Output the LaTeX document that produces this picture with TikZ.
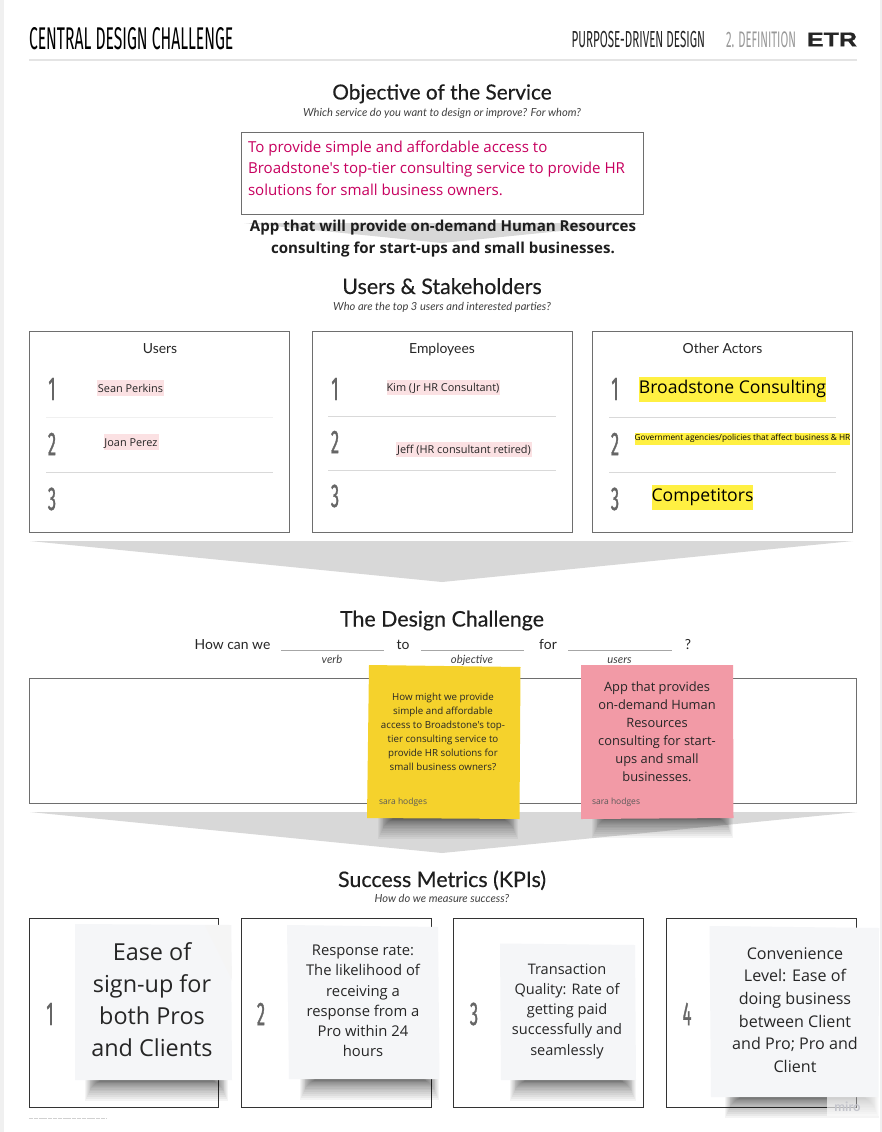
\documentclass[tikz,border=0pt]{standalone}
\usepackage{fontspec}
\setmainfont{Open Sans}
\newfontfamily\body{Open Sans}
\newfontfamily\hd{Lato}
\newfontfamily\hdm[FakeBold=0.35]{Lato}
\newfontfamily\cond[FakeStretch=0.5]{Fira Sans}
\newfontfamily\numf[FakeStretch=0.5,FakeBold=0.9]{Fira Sans}
\newfontfamily\logo[FakeStretch=1.25,FakeBold=1]{Liberation Sans}
\newcommand{\pxf}[2]{\fontsize{\dimexpr #1pt*3/4\relax}{\dimexpr #2pt*3/4\relax}\selectfont}
\definecolor{boxline}{HTML}{6E6E6E}
\definecolor{arrowgrey}{HTML}{D8D8D8}
\definecolor{rulegrey}{HTML}{D9D9D9}
\definecolor{numgrey}{HTML}{666666}
\definecolor{hlpink}{HTML}{FBE1E3}
\definecolor{hlyellow}{HTML}{FFF042}
\definecolor{magentatext}{HTML}{C7005F}
\definecolor{yellownote}{HTML}{F5D22C}
\definecolor{pinknote}{HTML}{F29AA6}
\definecolor{greynote}{HTML}{F5F6F8}
\definecolor{edgegrey}{HTML}{F0F0F0}
\definecolor{inktext}{HTML}{1E1E1E}
\definecolor{miroink}{HTML}{C4C5CC}
\tikzset{
  x=0.75pt,y=-0.75pt,
  txt/.style={inner sep=0pt,outer sep=0pt,text=inktext},
  heading/.style={txt,font=\hdm\pxf{21.4}{24},text height=14pt,text depth=3.5pt},
  subhead/.style={txt,font=\hd\itshape\pxf{11.1}{13},text=black!75,text height=7.5pt,text depth=2pt},
  coltitle/.style={txt,font=\hd\pxf{13.9}{16},text=black!85,text height=9.75pt,text depth=2.5pt},
  numeral/.style={txt,font=\numf\pxf{33}{35},text=numgrey},
  framebox/.style={draw=boxline,line width=0.75pt,fill=white},
  darkframe/.style={draw=black!80,line width=0.75pt,fill=white},
  divider/.style={draw=rulegrey,line width=0.75pt},
  pinkhl/.style={txt,fill=hlpink,font=\pxf{10.9}{12},text=black!85,text height=8.4pt,text depth=1.9pt,minimum height=15.5*0.75pt,inner xsep=0pt},
  yellowhl/.style={txt,fill=hlyellow,text=black},
  flow/.style={fill=arrowgrey},
  notetxt/.style={txt,align=center,text=black!85},
  author/.style={txt,anchor=west,font=\pxf{8.5}{10},text=black!65},
  blank/.style={draw=black!35,line width=0.5pt},
  hint/.style={subhead,font=\hd\itshape\pxf{11.3}{13}},
}
\newcommand{\softshadow}[3]{%
  \foreach \i in {0,...,17}{%
    \fill[black,opacity=0.042]
      ({#1+\i*0.9},#3) rectangle ({#2-\i*0.9},{#3+1+20*(1-\i/18)*(1-\i/18)});}}
\begin{document}
\begin{tikzpicture}
\useasboundingbox (0,0) rectangle (882,1132);
\fill[white] (0,0) rectangle (882,1132);
\fill[edgegrey] (0,0) rectangle (4,1132);
\fill[edgegrey] (880,0) rectangle (882,1132);

% header
\node[txt,anchor=west,font=\cond\pxf{31.4}{33},text=black] (title) at (29,39) {CENTRAL DESIGN CHALLENGE};
\node[txt,anchor=east,font=\cond\pxf{23.2}{25},text=black!85] (pdd) at (705,39.5) {PURPOSE-DRIVEN DESIGN};
\node[txt,anchor=east,font=\cond\pxf{22.5}{25},text=black!40] (def) at (796,39.5) {2. DEFINITION};
\node[txt,anchor=east,font=\logo\bfseries\pxf{20}{22},text=black!85] (etr) at (857,39.5) {ETR};
\draw[draw=edgegrey!95!black,line width=1.5pt] (29,59.5) -- (857,59.5);

% objective
\node[heading,font=\hdm\pxf{20.8}{24}] (objh) at (442,92.5) {Objective of the Service};
\node[subhead] (objs) at (442,113) {Which service do you want to design or improve? For whom?};
\fill[flow] (244,223) -- (640,223) -- (442,243) -- cycle;
\draw[framebox] (241,132.5) rectangle (643,214.5);
\node[txt,anchor=north west,align=left,font=\body\pxf{15.1}{21.5},text=magentatext] (obj) at (248,140.5)
  {To provide simple and affordable access to\\Broadstone's top-tier consulting service to provide HR\\solutions for small business owners.};
\node[txt,align=center,font=\bfseries\pxf{15.08}{22}] (app) at (443,239)
  {App that will provide on-demand Human Resources\\consulting for start-ups and small businesses.};

% users & stakeholders
\node[heading] (ush) at (442,287) {Users \& Stakeholders};
\node[subhead] (uss) at (442,307) {Who are the top 3 users and interested parties?};
\draw[framebox] (29.5,331.5) rectangle (289.5,532.5);
\draw[framebox] (312.5,331.5) rectangle (572.5,532.5);
\draw[framebox] (592.5,331.5) rectangle (852.5,532.5);
\node[coltitle] (c1) at (160,349) {Users};
\node[coltitle] (c2) at (442,349) {Employees};
\node[coltitle] (c3) at (722.5,349) {Other Actors};
\draw[divider,draw=edgegrey] (46,417) -- (273,417);
\draw[divider] (46,472.5) -- (273,472.5);
\draw[divider] (328,416.5) -- (556,416.5);
\draw[divider] (328,470.5) -- (556,470.5);
\draw[divider] (609,417.5) -- (836,417.5);
\draw[divider] (609,472.5) -- (836,472.5);
\node[numeral] (u1) at (52,389) {1};
\node[numeral] (u2) at (52,444) {2};
\node[numeral] (u3) at (52,499) {3};
\node[numeral] (e1) at (335,389) {1};
\node[numeral] (e2) at (335,442) {2};
\node[numeral] (e3) at (335,496) {3};
\node[numeral] (o1) at (615,389) {1};
\node[numeral] (o2) at (615,444) {2};
\node[numeral] (o3) at (615,499) {3};
\node[pinkhl,minimum width=67*0.75pt] (sean) at (130.5,388) {Sean Perkins};
\node[pinkhl,minimum width=55*0.75pt] (joan) at (131,442) {Joan Perez};
\node[pinkhl,minimum width=113*0.75pt] (kim) at (443,387.5) {Kim (Jr HR Consultant)};
\node[pinkhl,minimum width=136*0.75pt] (jeff) at (464,449.5) {Jeff (HR consultant retired)};
\node[yellowhl,font=\pxf{17.6}{20},minimum width=187*0.75pt,minimum height=25*0.75pt] (bc) at (732.5,389) {Broadstone Consulting};
\node[yellowhl,font=\pxf{8.3}{10},minimum width=215*0.75pt,minimum height=12*0.75pt] (gov) at (742.5,438.5) {Government agencies/policies that affect business \& HR};
\node[yellowhl,font=\pxf{17.6}{20},minimum width=101*0.75pt,minimum height=25*0.75pt] (comp) at (702.5,497) {Competitors};
\fill[flow] (30,541) -- (853,541) -- (442,582) -- cycle;

% design challenge
\node[heading] (dch) at (442,619.5) {The Design Challenge};
\node[coltitle] (how) at (232.5,645) {How can we};
\node[coltitle] (to) at (403,645) {to};
\node[coltitle] (for) at (548,645) {for};
\node[coltitle] (q) at (688,645) {?};
\draw[blank] (281,650.5) -- (384,650.5);
\draw[blank] (421,650.5) -- (524,650.5);
\draw[blank] (568,650.5) -- (672,650.5);
\node[hint] (verb) at (332,659.5) {verb};
\node[hint] (objv) at (472,659.5) {objective};
\node[hint] (usersv) at (619.5,659.5) {users};
\fill[flow] (30,812) -- (857,812) -- (442,853) -- cycle;
\draw[framebox] (29.5,678.5) rectangle (856.5,803.5);
\softshadow{378}{518}{818}
\softshadow{592}{733}{817}
\fill[yellownote] (369,665) -- (520.5,667) -- (519.5,819) -- (367,818) -- cycle;
\fill[pinknote] (581,665) -- (733,665) -- (733.5,818) -- (581,819) -- cycle;
\node[notetxt,font=\body\pxf{9.75}{13.9}] (yn) at (443,732)
  {How might we provide\\simple and affordable\\access to Broadstone's top-\\tier consulting service to\\provide HR solutions for\\small business owners?};
\node[author] (ya) at (379,802.5) {sara hodges};
\node[notetxt,font=\pxf{12.85}{18}] (pn) at (657,732)
  {App that provides\\on-demand Human\\Resources\\consulting for start-\\ups and small\\businesses.};
\node[author] (pa) at (592,802.5) {sara hodges};

% KPIs
\node[heading] (kpih) at (442,880) {Success Metrics (KPIs)};
\node[subhead] (kpis) at (442,899) {How do we measure success?};
\draw[darkframe] (29.5,918.5) rectangle (218.5,1107.5);
\draw[darkframe] (241.5,918.5) rectangle (431,1107.5);
\draw[darkframe] (453.5,918.5) rectangle (643.5,1107.5);
\draw[darkframe] (666,918.5) rectangle (856,1107.5);
\node[numeral] (k1) at (50,1014) {1};
\node[numeral] (k2) at (261,1014) {2};
\node[numeral] (k3) at (474,1014) {3};
\node[numeral] (k4) at (687,1014) {4};
\softshadow{85}{228}{1080}
\softshadow{300}{439}{1079}
\softshadow{510}{636}{1080}
\softshadow{725}{879}{1097}
\fill[white,opacity=0.65] (827,1097) rectangle (880,1116);
\draw[draw=black!55,line width=0.5pt] (856,1097) -- (856,1107.5);
\fill[greynote] (75,924) -- (231,925) -- (232,1080) -- (75,1080) -- cycle;
\fill[black!4] (205,925) -- (231,925) -- (232,980) -- cycle;
\fill[greynote] (287,925) -- (438,927) -- (439.5,1079) -- (289,1079) -- cycle;
\fill[greynote] (500,943.5) -- (635,945) -- (636,1080) -- (501,1080) -- cycle;
\fill[greynote] (709.5,926) -- (879,928) -- (878.5,1097) -- (711,1097) -- cycle;
\node[notetxt,font=\pxf{23.4}{32}] (n1) at (152,1000) {Ease of\\sign-up for\\both Pros\\and Clients};
\node[notetxt,font=\pxf{14.8}{20.3}] (n2) at (363,1001) {Response rate:\\The likelihood of\\receiving a\\response from a\\Pro within 24\\hours};
\node[notetxt,font=\pxf{14.55}{20.3}] (n3) at (567,1011) {Transaction\\Quality: Rate of\\getting paid\\successfully and\\seamlessly};
\node[notetxt,font=\pxf{16.1}{22.6}] (n4) at (795,1010) {Convenience\\Level: Ease of\\doing business\\between Client\\and Pro; Pro and\\Client};
\node[txt,font=\hd\bfseries\pxf{13}{14},text=miroink] (miro) at (847.5,1107) {miro};
\draw[draw=black!18,line width=0.6pt,dash pattern=on 3pt off 0.6pt] (29,1118) -- (107,1118);
\end{tikzpicture}
\end{document}
